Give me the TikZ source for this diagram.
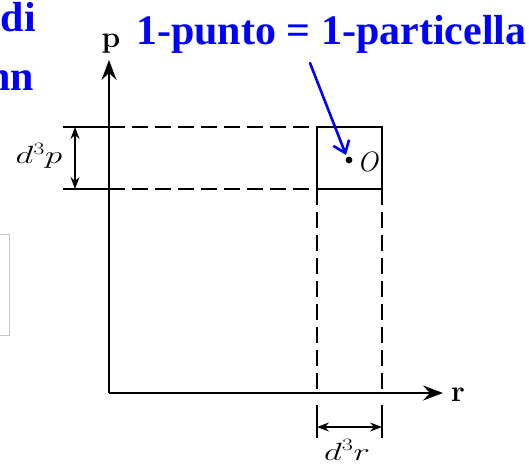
\documentclass[tikz,border=0pt]{standalone}
\usepackage{fontspec}
\newfontfamily\titlefont{Liberation Serif}
\usepackage{xcolor}
\usepackage{graphicx}
\usetikzlibrary{arrows.meta}

\newcommand{\widelbl}[1]{\scalebox{1.4}[1]{#1}}

\begin{document}
\begin{tikzpicture}[x=1pt,y=-1pt,
  axis/.style={line width=1.8pt,-{Stealth[length=20pt,width=15pt,inset=7pt]}},
  edge/.style={line width=1.8pt},
  guide/.style={line width=1.6pt,dash pattern=on 16pt off 7pt},
  size/.style={line width=1.1pt,{Stealth[length=12pt,width=9pt,inset=4pt]}-{Stealth[length=12pt,width=9pt,inset=4pt]}},
  lbl/.style={inner sep=0pt,font=\fontsize{24}{28}\selectfont},
  axlbl/.style={inner sep=0pt,font=\fontsize{30}{34}\selectfont\bfseries},
  blu/.style={inner sep=0pt,text=blue,font=\fontsize{42}{48}\selectfont\titlefont\bfseries}]
  \useasboundingbox (0,0) rectangle (529,473);

  % cut-off slide text and frame
  \node[blu,anchor=base east] (txtdi) at (36,32) {di};
  \node[blu,anchor=base east] (txtnn) at (34,91) {nn};
  \draw[gray!45,line width=0.8pt] (-5,234) rectangle (9.5,335);

  % axes
  \coordinate (o) at (109,393);
  \coordinate (ptop) at (109,60);
  \coordinate (rend) at (443,393);
  \draw[axis] (o) -- (ptop);
  \draw[axis] (o) -- (rend);
  \node[axlbl,anchor=base] (plbl) at (111,48) {p};
  \node[axlbl,anchor=base west] (rlbl) at (451,401) {r};

  % cell in phase space
  \coordinate (l1) at (63,127);  \coordinate (l2) at (63,189);
  \coordinate (a1) at (109,127); \coordinate (a2) at (109,189);
  \coordinate (b1) at (317,127); \coordinate (b2) at (317,189);
  \coordinate (c1) at (382,127); \coordinate (c2) at (382,189);
  \coordinate (b3) at (317,393); \coordinate (c3) at (382,393);
  \draw[edge] (l1) -- (a1);
  \draw[edge] (l2) -- (a2);
  \draw[guide] (a1) -- (b1);
  \draw[guide] (a2) -- (b2);
  \draw[edge] (b1) rectangle (c2);
  \draw[guide] (b2) -- (b3);
  \draw[guide] (c2) -- (c3);

  % widths
  \coordinate (t1) at (317,405); \coordinate (t2) at (317,438);
  \coordinate (u1) at (382,405); \coordinate (u2) at (382,438);
  \draw[edge] (t1) -- (t2);
  \draw[edge] (u1) -- (u2);
  \draw[size] (317,427) -- (382,427);
  \draw[size] (75,127) -- (75,189);
  \node[lbl,anchor=base] (dp) at (39,164) {\widelbl{$d^3p$}};
  \node[lbl,anchor=base] (dr) at (347,460) {\widelbl{$d^3r$}};

  % the point
  \fill (349,160) circle (3.4);
  \node[lbl,anchor=base west,font=\fontsize{28}{32}\selectfont\itshape] (olbl) at (357,171) {O};

  % blue caption with arrow
  \node[blu,anchor=base west] (cap) at (136,45) {1-punto = 1-particella};
  \coordinate (tail) at (310,63);
  \coordinate (tip) at (346,155);
  \draw[blue,line width=2.6pt,line cap=round,-{Straight Barb[length=11pt,width=17pt,line width=2.6pt]}] (tail) -- (tip);
\end{tikzpicture}
\end{document}
